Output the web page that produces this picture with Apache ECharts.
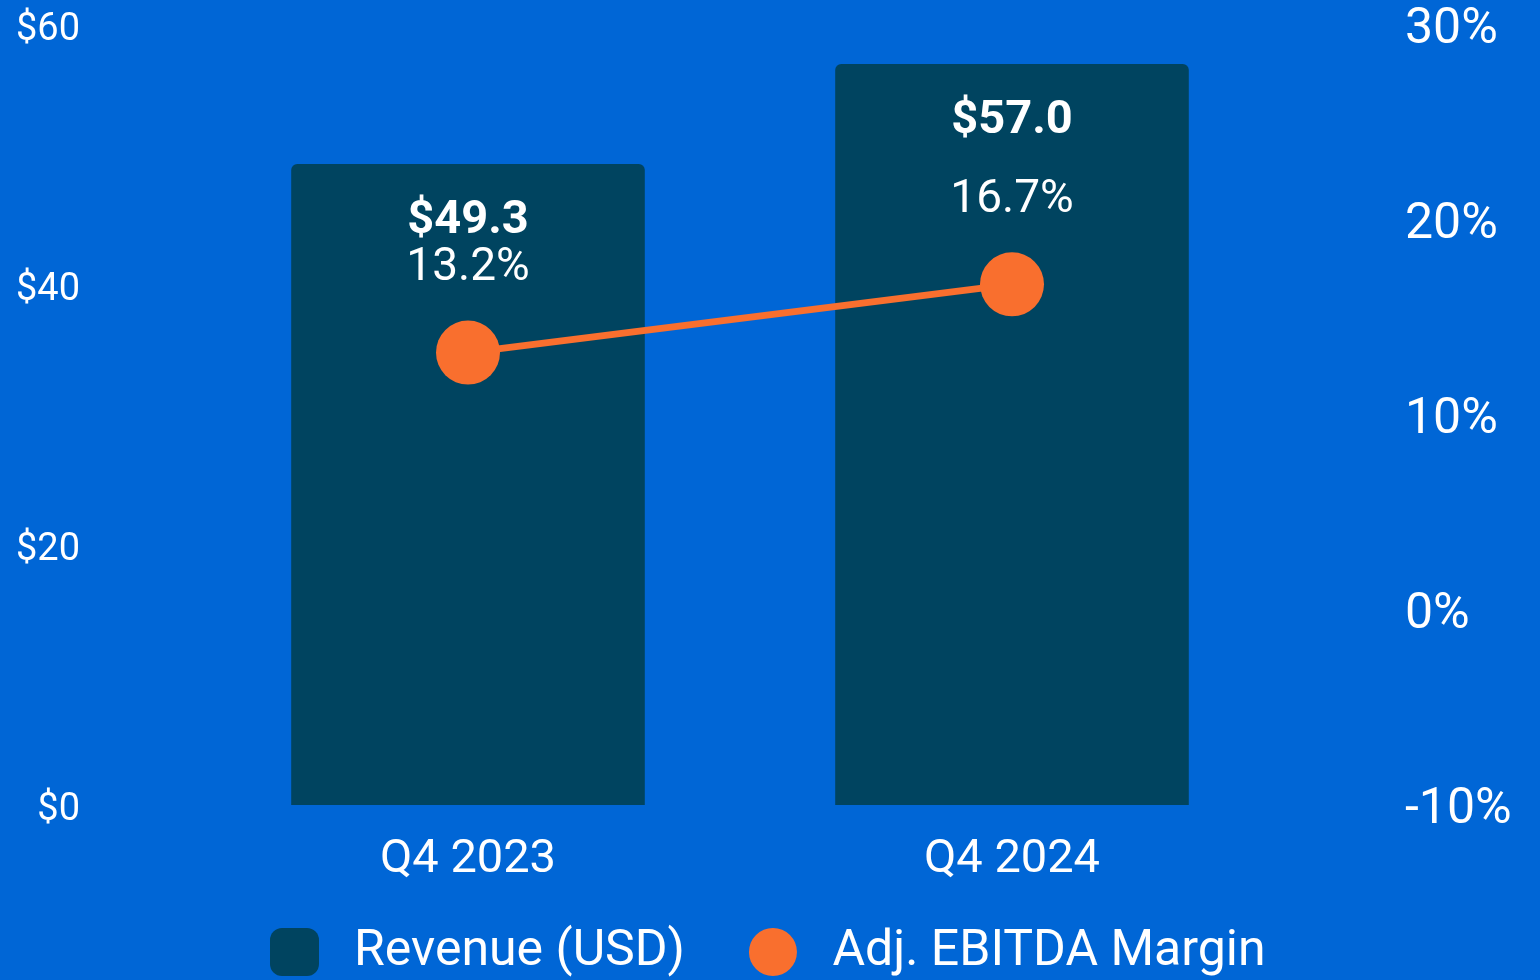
<!DOCTYPE html>
<html>
<head>
<meta charset="utf-8" />
<title>Revenue and Adj. EBITDA Margin</title>
<script src="https://cdn.jsdelivr.net/npm/echarts@6/dist/echarts.min.js"></script>
<style>
    html, body { margin: 0; padding: 0; background: #0066D6; }
    #chart { width: 1540px; height: 980px; }
</style>
</head>
<body>
<div id="chart"></div>
<script type="text/javascript">
// data
var quarters = ["Q4 2023", "Q4 2024"];
var revenue = [49.3, 57.0];      // USD
var margin = [13.2, 16.7];       // %
var revTicks = [0, 20, 40, 60];
var marginTicks = [-10, 0, 10, 20, 30];

var chart = echarts.init(document.getElementById("chart"));

var option = {
    backgroundColor: "#0066D6",
    textStyle: { fontFamily: "Roboto" },
    animation: false,
    grid: { left: 196, right: 256, top: 25, bottom: 175 },
    legend: {
        top: 922,
        left: 265,
        itemWidth: 49,
        itemHeight: 48,
        itemGap: 64,
        textStyle: { color: "#fff", fontSize: 50, padding: [0, 0, 0, 30] },
        data: [
            { name: "Revenue (USD)", icon: "roundRect" },
            { name: "Adj. EBITDA Margin", icon: "circle" }
        ]
    },
    xAxis: {
        type: "category",
        data: quarters,
        axisLine: { show: false },
        axisTick: { show: false },
        axisLabel: { color: "#fff", fontSize: 47, margin: 32 }
    },
    yAxis: [{
        type: "value",
        min: revTicks[0],
        max: revTicks[revTicks.length - 1],
        interval: 20,
        splitLine: { show: false },
        axisLabel: {
            color: "#fff", fontSize: 38, margin: 116,
            verticalAlign: "top", lineHeight: 10,
            formatter: function (v) { return "$" + v; }
        }
    }, {
        type: "value",
        min: marginTicks[0],
        max: marginTicks[marginTicks.length - 1],
        interval: 10,
        splitLine: { show: false },
        axisLabel: {
            color: "#fff", fontSize: 50, margin: 121,
            verticalAlign: "top", lineHeight: 10,
            formatter: "{value}%"
        }
    }],
    series: [{
        name: "Revenue (USD)",
        type: "bar",
        data: revenue,
        barWidth: "65%",
        itemStyle: { color: "#004460", borderRadius: [6, 6, 0, 0] },
        label: {
            show: true,
            position: "insideTop",
            distance: 34,
            color: "#fff",
            fontSize: 47,
            fontWeight: "bold",
            formatter: function (p) { return "$" + p.value.toFixed(1); }
        }
    }, {
        name: "Adj. EBITDA Margin",
        type: "line",
        yAxisIndex: 1,
        data: margin,
        symbol: "circle",
        symbolSize: 64,
        lineStyle: { color: "#F96F2E", width: 7 },
        itemStyle: { color: "#F96F2E" },
        label: {
            show: true,
            position: "top",
            distance: 29,
            color: "#fff",
            fontSize: 46,
            formatter: function (p) { return p.value.toFixed(1) + "%"; }
        }
    }]
};

chart.setOption(option);
</script>
</body>
</html>
